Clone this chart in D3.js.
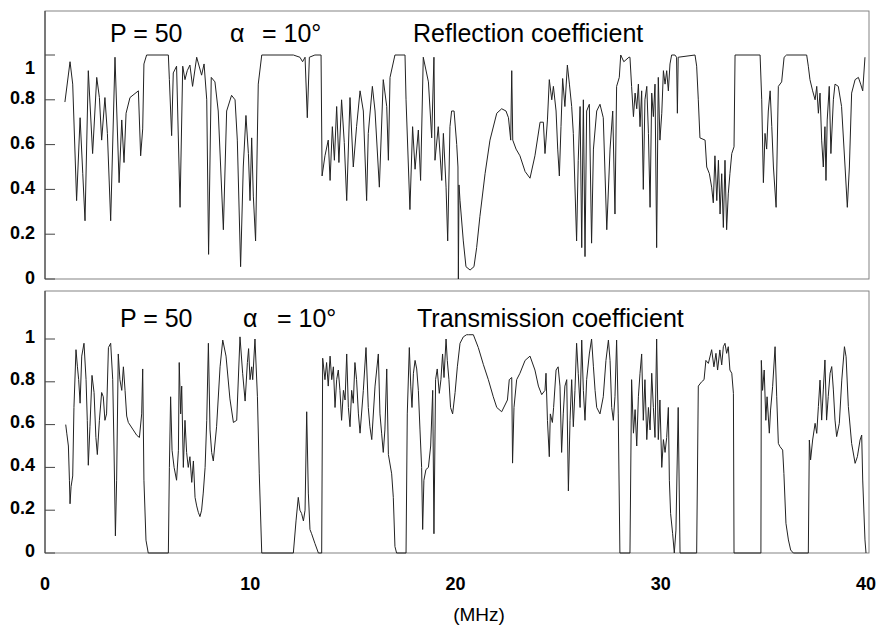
<!DOCTYPE html>
<html><head><meta charset="utf-8">
<script src="https://cdn.jsdelivr.net/npm/d3@7"></script>
<style>
body{margin:0;background:#fff}
svg{display:block}
text{font-family:"Liberation Sans",Arial,Helvetica,sans-serif;fill:#000}
</style>
</head><body>
<svg id="chart" width="878" height="627"></svg>
<script>
// ---- data (frequency in MHz, coefficient) ----
const xTicks = [0, 10, 20, 30, 40];
const yTicks = [0, 0.2, 0.4, 0.6, 0.8, 1];
const xTitle = "(MHz)";
const paramP = "P = 50";
const paramAlphaSym = "α";
const paramAlphaVal = "= 10°";

const reflection = [[0.97,0.79],[1.22,0.97],[1.35,0.87],[1.54,0.35],[1.71,0.72],[1.84,0.47],[1.95,0.26],[2.11,0.93],[2.32,0.56],[2.52,0.90],[2.65,0.81],[2.76,0.62],[2.92,0.81],[3.04,0.65],[3.20,0.26],[3.41,0.99],[3.61,0.43],[3.74,0.71],[3.85,0.52],[3.95,0.74],[4.14,0.81],[4.55,0.84],[4.66,0.55],[4.76,0.67],[4.82,0.96],[4.95,1.0],[6.01,1.0],[6.06,0.89],[6.17,0.64],[6.25,0.92],[6.41,0.95],[6.58,0.32],[6.71,0.95],[6.82,0.89],[6.93,0.93],[7.06,0.955],[7.19,0.86],[7.39,0.99],[7.63,0.91],[7.75,0.96],[7.88,0.80],[7.97,0.11],[8.10,0.90],[8.28,0.88],[8.44,0.75],[8.69,0.22],[8.85,0.75],[9.09,0.82],[9.26,0.80],[9.37,0.62],[9.53,0.055],[9.66,0.50],[9.79,0.73],[9.91,0.56],[9.99,0.35],[10.07,0.63],[10.15,0.37],[10.26,0.17],[10.39,0.87],[10.56,1.0],[12.10,1.0],[12.42,0.99],[12.55,0.97],[12.67,0.99],[12.78,0.72],[12.88,0.99],[13.15,1.0],[13.45,1.0],[13.50,0.46],[13.64,0.55],[13.80,0.62],[13.89,0.44],[14.00,0.68],[14.10,0.53],[14.21,0.77],[14.32,0.52],[14.45,0.80],[14.58,0.61],[14.70,0.35],[14.86,0.81],[15.02,0.50],[15.18,0.68],[15.35,0.84],[15.51,0.75],[15.67,0.35],[15.75,0.65],[15.95,0.86],[16.08,0.75],[16.29,0.41],[16.48,0.89],[16.65,0.77],[16.73,0.53],[16.81,0.90],[17.05,1.0],[17.54,1.0],[17.59,0.80],[17.78,0.31],[17.91,0.68],[18.03,0.49],[18.19,0.665],[18.30,0.44],[18.43,0.99],[18.68,0.88],[18.84,0.63],[18.95,0.99],[19.00,0.53],[19.16,0.68],[19.33,0.44],[19.41,0.65],[19.54,0.41],[19.62,0.17],[19.73,0.68],[19.81,0.75],[19.93,0.75],[20.06,0.60],[20.12,0.50],[20.14,0.0],[20.17,0.42],[20.22,0.35],[20.38,0.17],[20.51,0.055],[20.71,0.04],[20.90,0.055],[21.03,0.14],[21.19,0.28],[21.44,0.47],[21.68,0.62],[22.01,0.74],[22.25,0.76],[22.46,0.75],[22.58,0.72],[22.69,0.62],[22.74,0.93],[22.79,0.62],[22.95,0.58],[23.14,0.55],[23.39,0.48],[23.63,0.45],[23.87,0.55],[24.12,0.70],[24.28,0.70],[24.36,0.56],[24.48,0.71],[24.57,0.89],[24.69,0.80],[24.77,0.86],[24.90,0.75],[24.98,0.58],[25.06,0.46],[25.14,0.68],[25.22,0.895],[25.33,0.77],[25.45,0.955],[25.55,0.87],[25.66,0.77],[25.74,0.65],[25.90,0.17],[25.98,0.53],[26.07,0.77],[26.15,0.14],[26.23,0.80],[26.31,0.10],[26.39,0.75],[26.52,0.78],[26.63,0.16],[26.72,0.58],[26.88,0.75],[27.04,0.78],[27.20,0.72],[27.37,0.22],[27.53,0.58],[27.66,0.75],[27.77,0.29],[27.85,0.86],[27.98,0.90],[28.05,1.0],[28.20,0.97],[28.45,0.99],[28.50,0.99],[28.58,0.86],[28.67,0.725],[28.75,0.83],[28.83,0.76],[28.91,0.87],[28.99,0.68],[29.07,0.84],[29.15,0.40],[29.23,0.80],[29.32,0.86],[29.40,0.65],[29.48,0.32],[29.56,0.83],[29.64,0.725],[29.72,0.87],[29.80,0.14],[29.88,0.90],[29.96,0.62],[30.05,0.74],[30.13,0.93],[30.21,0.87],[30.29,0.93],[30.37,0.84],[30.45,0.96],[30.53,1.0],[30.69,1.0],[30.77,0.99],[30.81,0.74],[30.85,0.99],[31.67,1.0],[31.75,0.95],[31.83,0.80],[31.91,0.63],[32.16,0.62],[32.24,0.50],[32.37,0.47],[32.48,0.41],[32.56,0.34],[32.64,0.55],[32.73,0.35],[32.81,0.53],[32.89,0.29],[32.97,0.47],[33.05,0.23],[33.13,0.53],[33.21,0.22],[33.29,0.38],[33.37,0.47],[33.46,0.56],[33.57,0.59],[33.62,1.0],[34.84,1.0],[34.92,0.80],[35.00,0.43],[35.08,0.65],[35.16,0.58],[35.24,0.75],[35.33,0.84],[35.41,0.68],[35.49,0.50],[35.62,0.32],[35.73,0.86],[35.89,0.88],[36.01,0.99],[36.13,1.0],[37.11,1.0],[37.19,0.95],[37.27,0.89],[37.40,0.84],[37.52,0.80],[37.60,0.86],[37.68,0.74],[37.76,0.83],[37.84,0.62],[37.92,0.50],[38.00,0.68],[38.05,0.44],[38.11,0.71],[38.21,0.86],[38.29,0.56],[38.41,0.80],[38.49,0.87],[38.65,0.86],[38.81,0.77],[38.98,0.50],[39.09,0.32],[39.19,0.50],[39.30,0.83],[39.47,0.89],[39.63,0.90],[39.74,0.87],[39.84,0.84],[39.95,0.99]];

const transmission = [[1.01,0.60],[1.06,0.56],[1.14,0.50],[1.19,0.34],[1.22,0.23],[1.27,0.31],[1.35,0.36],[1.41,0.68],[1.51,0.95],[1.58,0.87],[1.64,0.81],[1.71,0.70],[1.79,0.92],[1.90,0.98],[2.00,0.81],[2.06,0.62],[2.11,0.41],[2.19,0.59],[2.29,0.83],[2.39,0.75],[2.48,0.54],[2.55,0.46],[2.65,0.62],[2.76,0.75],[2.84,0.73],[2.92,0.62],[3.00,0.65],[3.09,0.96],[3.20,0.98],[3.30,0.81],[3.36,0.50],[3.43,0.08],[3.49,0.34],[3.57,0.93],[3.65,0.81],[3.74,0.76],[3.82,0.87],[3.90,0.76],[3.98,0.64],[4.06,0.61],[4.30,0.575],[4.47,0.55],[4.60,0.54],[4.71,0.65],[4.76,0.86],[4.82,0.34],[4.92,0.06],[5.03,0],[6.01,0],[6.06,0.40],[6.12,0.73],[6.19,0.48],[6.29,0.40],[6.41,0.34],[6.50,0.48],[6.54,0.89],[6.61,0.65],[6.66,0.78],[6.74,0.40],[6.82,0.62],[6.90,0.47],[6.98,0.40],[7.06,0.45],[7.15,0.33],[7.23,0.43],[7.31,0.26],[7.39,0.22],[7.47,0.19],[7.55,0.17],[7.63,0.20],[7.71,0.28],[7.80,0.40],[7.88,0.62],[7.96,0.98],[8.04,0.575],[8.12,0.47],[8.20,0.43],[8.36,0.59],[8.53,0.87],[8.66,0.995],[8.82,0.92],[9.01,0.72],[9.18,0.61],[9.34,0.62],[9.50,1.01],[9.63,0.84],[9.75,0.71],[9.86,0.89],[9.92,0.955],[9.99,0.81],[10.07,0.87],[10.12,0.81],[10.23,1.0],[10.35,0.73],[10.44,0.37],[10.56,0],[12.10,0],[12.23,0.15],[12.34,0.26],[12.42,0.20],[12.50,0.185],[12.59,0.15],[12.67,0.20],[12.75,0.66],[12.83,0.28],[12.91,0.11],[12.99,0.09],[13.15,0.045],[13.32,0],[13.48,0],[13.53,0.91],[13.64,0.81],[13.72,0.89],[13.80,0.78],[13.89,0.92],[13.97,0.81],[14.05,0.87],[14.13,0.68],[14.21,0.81],[14.29,0.855],[14.37,0.76],[14.45,0.62],[14.54,0.76],[14.62,0.715],[14.70,0.93],[14.78,0.68],[14.86,0.59],[14.94,0.76],[15.02,0.70],[15.10,0.89],[15.18,0.81],[15.27,0.65],[15.35,0.56],[15.51,0.76],[15.64,0.96],[15.75,0.68],[15.83,0.59],[15.92,0.53],[16.08,0.78],[16.24,0.93],[16.32,0.65],[16.40,0.56],[16.48,0.47],[16.56,0.575],[16.65,0.86],[16.73,0.46],[16.89,0.37],[16.97,0.26],[17.05,0.03],[17.13,0],[17.59,0],[17.65,0.65],[17.75,0.96],[17.82,0.78],[17.88,0.68],[17.95,0.84],[18.03,0.90],[18.11,0.86],[18.19,0.76],[18.27,0.575],[18.35,0.40],[18.40,0.11],[18.46,0.34],[18.56,0.39],[18.68,0.40],[18.79,0.50],[18.89,0.76],[18.95,0.09],[19.03,0.81],[19.11,0.86],[19.21,0.746],[19.29,0.81],[19.37,0.93],[19.44,0.82],[19.54,1.0],[19.60,0.90],[19.68,0.81],[19.76,0.68],[19.86,0.65],[19.98,0.75],[20.09,0.87],[20.22,0.98],[20.38,1.01],[20.54,1.02],[20.63,1.02],[20.87,1.02],[21.11,0.96],[21.36,0.88],[21.60,0.81],[21.84,0.73],[22.01,0.68],[22.25,0.66],[22.53,0.715],[22.62,0.81],[22.74,0.82],[22.78,0.42],[22.85,0.68],[22.98,0.81],[23.14,0.84],[23.39,0.90],[23.63,0.92],[23.87,0.855],[24.04,0.78],[24.20,0.74],[24.36,0.76],[24.41,0.84],[24.48,0.62],[24.57,0.45],[24.62,0.65],[24.72,0.61],[24.78,0.68],[24.90,0.855],[25.00,0.87],[25.09,0.78],[25.17,0.47],[25.25,0.65],[25.33,0.78],[25.42,0.81],[25.50,0.29],[25.58,0.62],[25.66,0.81],[25.74,0.59],[25.82,0.76],[25.90,0.98],[25.98,0.84],[26.07,0.68],[26.15,0.995],[26.23,0.76],[26.31,0.62],[26.39,0.81],[26.52,0.93],[26.63,1.0],[26.72,0.87],[26.80,0.76],[26.88,0.68],[27.04,0.65],[27.20,0.73],[27.33,0.90],[27.45,0.995],[27.53,0.90],[27.61,0.68],[27.69,0.62],[27.77,0.73],[27.85,0.995],[27.93,0.65],[28.01,0],[28.50,0],[28.58,0.81],[28.67,0.56],[28.75,0.67],[28.83,0.50],[28.91,0.73],[28.99,0.84],[29.07,0.93],[29.15,0.62],[29.23,0.81],[29.32,0.53],[29.40,0.68],[29.48,0.575],[29.56,0.84],[29.64,0.68],[29.72,0.54],[29.80,1.0],[29.88,0.53],[29.96,0.715],[30.05,0.40],[30.13,0.53],[30.21,0.47],[30.29,0.54],[30.37,0.68],[30.42,0.34],[30.48,0.185],[30.58,0.09],[30.66,0],[30.74,0.107],[30.85,0.68],[30.94,0],[31.75,0],[31.83,0.78],[31.99,0.80],[32.11,0.81],[32.20,0.90],[32.32,0.886],[32.48,0.95],[32.59,0.87],[32.69,0.933],[32.77,0.855],[32.88,0.949],[32.97,0.879],[33.05,0.964],[33.13,0.98],[33.21,0.933],[33.29,0.964],[33.37,0.855],[33.46,0.84],[33.54,0.746],[33.57,0],[34.88,0],[34.90,0.90],[34.96,0.76],[35.04,0.855],[35.12,0.62],[35.18,0.73],[35.29,0.56],[35.35,0.668],[35.45,0.777],[35.57,0.964],[35.65,0.73],[35.73,0.512],[35.81,0.497],[35.94,0.481],[36.00,0.372],[36.10,0.139],[36.22,0.061],[36.33,0.014],[36.46,0],[37.19,0],[37.24,0.528],[37.30,0.435],[37.40,0.528],[37.52,0.606],[37.60,0.559],[37.68,0.684],[37.76,0.808],[37.84,0.621],[37.92,0.762],[38.00,0.902],[38.08,0.621],[38.16,0.731],[38.25,0.840],[38.33,0.871],[38.41,0.762],[38.49,0.621],[38.57,0.544],[38.70,0.606],[38.82,0.808],[38.95,0.964],[39.03,0.917],[39.14,0.684],[39.30,0.512],[39.47,0.419],[39.58,0.450],[39.71,0.528],[39.79,0.551],[39.84,0.341],[39.95,0.061],[40.00,0]];

// ---- layout ----
const svg = d3.select("#chart");
const x = d3.scaleLinear().domain([0, 40]).range([45, 866]);
const boxLeft = 45, boxRight = 869;

const panels = [
  {name: "Reflection coefficient", data: reflection, top: 11, y: d3.scaleLinear().domain([0,1]).range([279, 55]),
   titleY: 42, pX: 110, aX: 230, aValX: 262, nameX: 413, labelDy: t => t === 1 ? 18.5 : 4.5},
  {name: "Transmission coefficient", data: transmission, top: 291, y: d3.scaleLinear().domain([0,1]).range([553, 339]),
   titleY: 327, pX: 120, aX: 243, aValX: 277, nameX: 417, labelDy: t => 3.5}
];

panels.forEach(p => {
  const g = svg.append("g");
  const bottom = p.y(0);
  g.append("rect").attr("x", boxLeft).attr("y", p.top)
    .attr("width", boxRight - boxLeft).attr("height", bottom - p.top)
    .attr("fill", "none").attr("stroke", "#777").attr("stroke-width", 0.9);
  g.append("line").attr("x1", boxLeft).attr("x2", boxLeft).attr("y1", p.top).attr("y2", bottom)
    .attr("stroke", "#333").attr("stroke-width", 1);
  g.selectAll(".yt").data(yTicks).enter().append("line")
    .attr("x1", boxLeft).attr("x2", boxLeft + 10)
    .attr("y1", d => p.y(d)).attr("y2", d => p.y(d))
    .attr("stroke", "#444").attr("stroke-width", 1);
  g.selectAll(".yl").data(yTicks).enter().append("text")
    .attr("x", 35).attr("y", d => p.y(d) + p.labelDy(d))
    .attr("text-anchor", "end").attr("font-size", 18).attr("font-weight", "bold")
    .text(d => d3.format("~g")(d));
  g.append("path").datum(p.data)
    .attr("d", d3.line().x(d => x(d[0])).y(d => p.y(d[1])))
    .attr("fill", "none").attr("stroke", "#222").attr("stroke-width", 1)
    .attr("stroke-linejoin", "round");
  g.append("text").attr("x", p.pX).attr("y", p.titleY).attr("font-size", 25).text(paramP);
  g.append("text").attr("x", p.aX).attr("y", p.titleY).attr("font-size", 25).text(paramAlphaSym);
  g.append("text").attr("x", p.aValX).attr("y", p.titleY).attr("font-size", 25).text(paramAlphaVal);
  g.append("text").attr("x", p.nameX).attr("y", p.titleY).attr("font-size", 25).text(p.name);
});

svg.selectAll(".xl").data(xTicks).enter().append("text")
  .attr("x", d => x(d)).attr("y", 590).attr("text-anchor", "middle")
  .attr("font-size", 18).attr("font-weight", "bold").text(d => d);
svg.append("text").attr("x", 479).attr("y", 621).attr("text-anchor", "middle")
  .attr("font-size", 19).text(xTitle);
</script>
</body></html>
